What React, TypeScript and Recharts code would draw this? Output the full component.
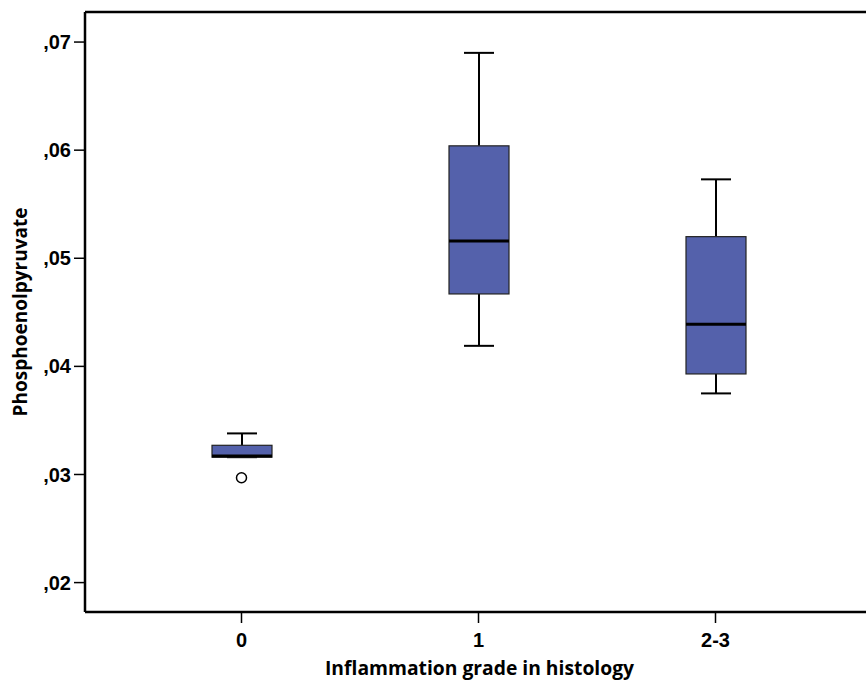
import React from "react";
import { ComposedChart, Bar, Scatter, XAxis, YAxis, ReferenceLine } from "recharts";

// values
const grades = ["0", "1", "2-3"];
const whiskerLow = [0.0316, 0.0419, 0.0375];
const q1 = [0.0316, 0.0467, 0.0393];
const medians = [0.0317, 0.0516, 0.0439];
const q3 = [0.0327, 0.0604, 0.052];
const whiskerHigh = [0.0338, 0.069, 0.0573];

const outlierGrades = ["0"];
const outlierValues = [0.0297];

const yTicks = [0.02, 0.03, 0.04, 0.05, 0.06, 0.07];
const Y_MIN = 0.01728;
const Y_MAX = 0.07278;

const BOX_FILL = "#5461ab";
const TICK_FONT = "'Liberation Sans', Arial, sans-serif";
const TITLE_FONT = "'Open Sans', sans-serif";

const boxData = grades.map((grade, i) => ({
  grade,
  low: whiskerLow[i],
  q1: q1[i],
  median: medians[i],
  q3: q3[i],
  high: whiskerHigh[i],
}));

const outlierData = outlierGrades.map((grade, i) => ({ grade, value: outlierValues[i] }));

// the bar spans low..high; inner marks are placed along that scaled span
const BoxShape = (props: any) => {
  const { x, y, width, height, payload } = props;
  const top = Math.min(y, y + height);
  const h = Math.abs(height);
  const span = payload.high - payload.low;
  const py = (v: number) => top + ((payload.high - v) / span) * h;
  const cx = x + width / 2;
  const cap = width / 4;
  const yHigh = py(payload.high);
  const yLow = py(payload.low);
  const yQ3 = py(payload.q3);
  const yQ1 = py(payload.q1);
  const yMed = py(payload.median);
  return (
    <g>
      <line x1={cx} x2={cx} y1={yHigh} y2={yQ3} stroke="#000" strokeWidth={2} />
      <line x1={cx} x2={cx} y1={yQ1} y2={yLow} stroke="#000" strokeWidth={2} />
      <line x1={cx - cap} x2={cx + cap} y1={yHigh} y2={yHigh} stroke="#000" strokeWidth={2} />
      <line x1={cx - cap} x2={cx + cap} y1={yLow} y2={yLow} stroke="#000" strokeWidth={2} />
      <rect x={x} y={yQ3} width={width} height={yQ1 - yQ3} fill={BOX_FILL} stroke="#222" strokeWidth={1.2} />
      <line x1={x} x2={x + width} y1={yMed} y2={yMed} stroke="#000" strokeWidth={3} />
    </g>
  );
};

const OutlierShape = (props: any) => (
  <circle cx={props.cx} cy={props.cy} r={5} fill="#fff" stroke="#000" strokeWidth={1.5} />
);

export default function App() {
  return (
    <div style={{ position: "absolute", left: 0, top: 0, width: 866, height: 689, background: "#fff" }}>
      <ComposedChart width={866} height={689} data={boxData} margin={{ top: 12, right: 0, bottom: 0, left: 0 }}>
        <XAxis
          dataKey="grade"
          allowDuplicatedCategory={false}
          height={77}
          padding={{ left: 38, right: 32 }}
          axisLine={{ stroke: "#000", strokeWidth: 2.5 }}
          tickLine={{ stroke: "#000", strokeWidth: 1.5 }}
          tickSize={11}
          tickMargin={10}
          tick={{ fill: "#000", fontSize: 20, fontWeight: 700, fontFamily: TICK_FONT }}
          label={{
            value: "Inflammation grade in histology",
            position: "center",
            dx: 4,
            dy: 18,
            fill: "#000",
            fontSize: 19.3,
            fontWeight: 700,
            fontFamily: TITLE_FONT,
          }}
        />
        <YAxis
          type="number"
          width={85}
          domain={[Y_MIN, Y_MAX]}
          allowDataOverflow
          ticks={yTicks}
          tickFormatter={(v: number) => "," + v.toFixed(2).slice(2)}
          axisLine={{ stroke: "#000", strokeWidth: 2.5 }}
          tickLine={{ stroke: "#000", strokeWidth: 1.5 }}
          tickSize={11}
          tickMargin={3}
          tick={{ fill: "#000", fontSize: 20, fontWeight: 700, fontFamily: TICK_FONT }}
          label={{
            value: "Phosphoenolpyruvate",
            angle: -90,
            position: "center",
            dx: -22,
            fill: "#000",
            fontSize: 19,
            fontWeight: 700,
            fontFamily: TITLE_FONT,
          }}
        />
        <ReferenceLine y={Y_MAX} stroke="#000" strokeWidth={2.5} />
        <Bar
          dataKey={(d: any) => [d.low, d.high]}
          barSize={60}
          shape={<BoxShape />}
          isAnimationActive={false}
        />
        <Scatter data={outlierData} dataKey="value" shape={<OutlierShape />} isAnimationActive={false} />
      </ComposedChart>
    </div>
  );
}
